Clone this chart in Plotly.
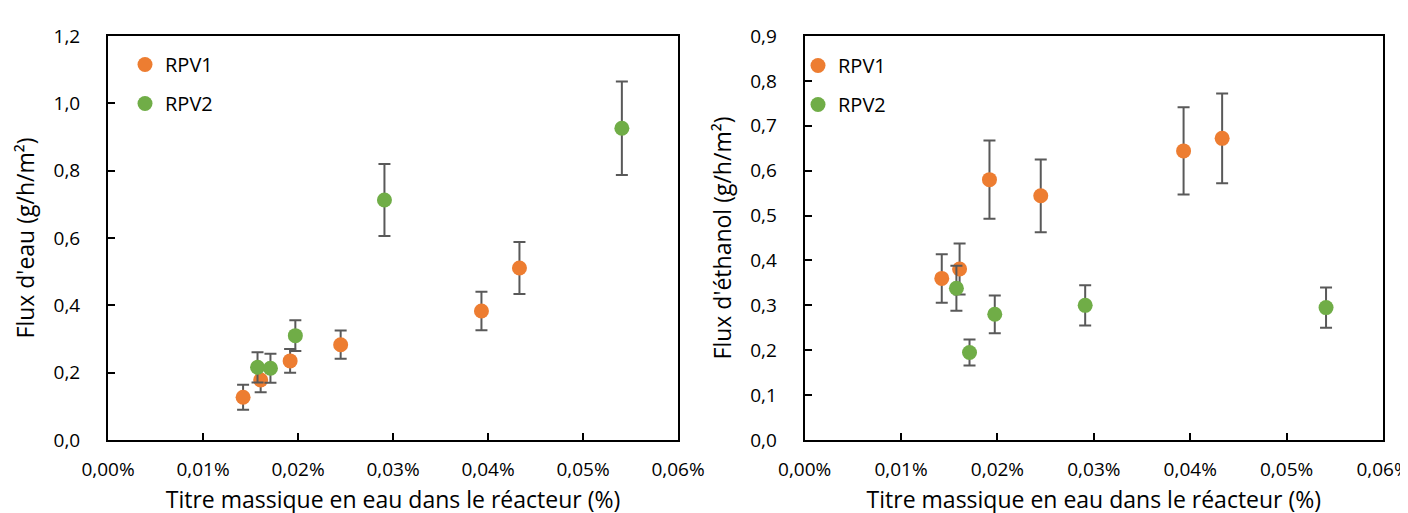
import plotly.graph_objects as go

# ---- data (x in % water mass fraction) ----
rpv1_x = [0.01422, 0.01607, 0.01917, 0.02449, 0.03931, 0.04331]
rpv2_x = [0.01574, 0.01710, 0.01972, 0.02910, 0.05409]

# water flux (g/h/m2)
eau_rpv1 = [0.127, 0.178, 0.235, 0.283, 0.383, 0.511]
eau_rpv1_err = [0.037, 0.036, 0.035, 0.042, 0.057, 0.077]
eau_rpv2 = [0.216, 0.213, 0.310, 0.713, 0.926]
eau_rpv2_err = [0.045, 0.043, 0.046, 0.107, 0.139]

# ethanol flux (g/h/m2)
eth_rpv1 = [0.360, 0.381, 0.580, 0.544, 0.644, 0.672]
eth_rpv1_err = [0.054, 0.057, 0.087, 0.081, 0.097, 0.100]
eth_rpv2 = [0.338, 0.195, 0.280, 0.300, 0.295]
eth_rpv2_err = [0.050, 0.029, 0.042, 0.045, 0.045]

series_names = ["RPV1", "RPV2"]
x_title = "Titre massique en eau dans le réacteur (%)"
y_title_left = "Flux d'eau (g/h/m²)"
y_title_right = "Flux d'éthanol (g/h/m²)"

ORANGE = "#ED7D31"
GREEN = "#70AD47"
ERR = "#595959"
FONT = "Open Sans"

W, H = 1408, 513
L, R, T, B = 100, 1408 - 1375, 28, 81
pw = W - L - R
ph = H - T - B

fig = go.Figure()


def add(x, y, e, name, color, xa, ya, legend, group):
    fig.add_trace(go.Scatter(
        x=x, y=y, mode="markers", name=name,
        marker=dict(color=color, size=15, line=dict(width=0)),
        error_y=dict(type="data", array=e, visible=True, color=ERR,
                     thickness=2, width=6),
        xaxis=xa, yaxis=ya, legend=legend, legendgroup=group,
    ))


add(rpv1_x, eau_rpv1, eau_rpv1_err, series_names[0], ORANGE, "x", "y", "legend", "a1")
add(rpv2_x, eau_rpv2, eau_rpv2_err, series_names[1], GREEN, "x", "y", "legend", "a2")
add(rpv1_x, eth_rpv1, eth_rpv1_err, series_names[0], ORANGE, "x2", "y2", "legend2", "b1")
add(rpv2_x, eth_rpv2, eth_rpv2_err, series_names[1], GREEN, "x2", "y2", "legend2", "b2")

axis_common = dict(
    showline=True, linecolor="#000000", linewidth=2, mirror=True,
    ticks="inside", ticklen=7, tickwidth=2, tickcolor="#000000",
    showgrid=False, zeroline=False,
    tickfont=dict(family=FONT, size=19, color="#000000"),
    automargin=False,
)

xdom1 = [0, 570 / pw]
xdom2 = [(796.7 - L) / pw, 1]

leg_common = dict(xanchor="left", yanchor="top", bgcolor="rgba(0,0,0,0)",
                  font=dict(family=FONT, size=20, color="#000000"),
                  traceorder="grouped", tracegroupgap=10,
                  itemsizing="trace")

fig.update_layout(
    width=W, height=H,
    margin=dict(l=L, r=R, t=T, b=B),
    paper_bgcolor="white", plot_bgcolor="white",
    separators=", ",
    font=dict(family=FONT, color="#000000"),
    xaxis=dict(axis_common, domain=xdom1, range=[0, 0.06], dtick=0.01,
               tickformat=".2f", ticksuffix="%", anchor="y",
               ticklabelstandoff=11,
               title=dict(text=x_title, font=dict(family=FONT, size=23), standoff=11)),
    yaxis=dict(axis_common, domain=[0, 1], range=[0, 1.2], dtick=0.2,
               tickformat=".1f", anchor="x", ticklabelstandoff=22,
               title=dict(text=y_title_left, font=dict(family=FONT, size=23), standoff=12)),
    xaxis2=dict(axis_common, domain=xdom2, range=[0, 0.06], dtick=0.01,
                tickformat=".2f", ticksuffix="%", anchor="y2",
                ticklabelstandoff=11,
                title=dict(text=x_title, font=dict(family=FONT, size=23), standoff=11)),
    yaxis2=dict(axis_common, domain=[0, 1], range=[0, 0.9], dtick=0.1,
                tickformat=".1f", anchor="x2", ticklabelstandoff=22,
                title=dict(text=y_title_right, font=dict(family=FONT, size=23), standoff=12)),
    legend=dict(leg_common, x=(117 - L) / pw, y=1 - (37 - T) / ph),
    legend2=dict(leg_common, x=(790 - L) / pw, y=1 - (38 - T) / ph),
    showlegend=True,
)

fig.write_html("out.html")
